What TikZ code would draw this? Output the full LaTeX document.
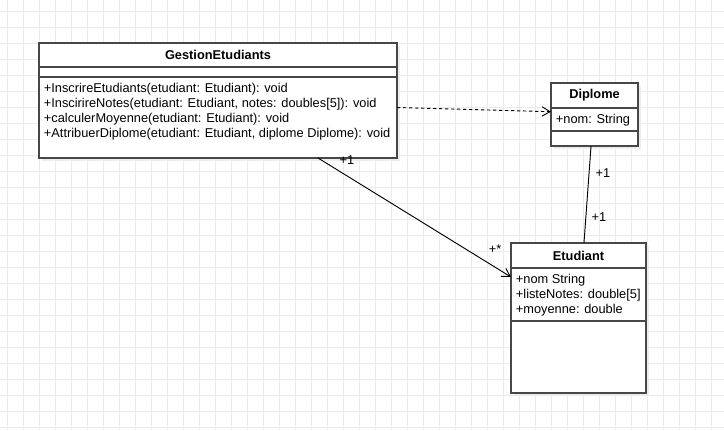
\documentclass[tikz,border=0pt]{standalone}
\usepackage{fontspec}
\setmainfont{Liberation Sans}
\usetikzlibrary{arrows.meta,shadows}

\tikzset{
  umlpart/.style={draw=black!72, line width=0.9pt, fill=white, anchor=north west, inner sep=0pt, outer sep=0pt,
    drop shadow={shadow xshift=2.5pt, shadow yshift=-2.5pt, fill=black!7, opacity=1}},
  umltitle/.style={umlpart, font=\bfseries\fontsize{9.6}{11}\selectfont},
  umltext/.style={anchor=north west, inner sep=0pt, align=left, font=\fontsize{9.6}{11.2}\selectfont},
  multiplicity/.style={inner sep=0pt, font=\fontsize{9.6}{11}\selectfont},
  link/.style={draw=black, line width=0.7pt},
  openarrow/.style={-{Straight Barb[length=6pt,width=7pt]}},
  gridline/.style={draw=black!8, line width=0.75pt}
}

\begin{document}
\begin{tikzpicture}[x=0.75pt, y=-0.75pt]
	\useasboundingbox (0,0) rectangle (724,430);
	\fill[white] (0,0) rectangle (724,430);
	\foreach \gx in {7,23,...,727} \draw[gridline] (\gx,0) -- (\gx,430);
	\foreach \gy in {11,27,...,427} \draw[gridline] (0,\gy) -- (724,\gy);

	% GestionEtudiants
	\node[umltitle, minimum width=268.5pt, minimum height=18pt] (gestion) at (39,43) {GestionEtudiants};
	\node[umlpart, minimum width=268.5pt, minimum height=7.5pt] (gestionattr) at (gestion.south west) {};
	\node[umlpart, minimum width=268.5pt, minimum height=60.75pt] (gestionops) at (gestionattr.south west) {};
	\node[umltext] (gestionopstext) at ([xshift=3.5pt,yshift=-4.5pt]gestionops.north west) {+InscrireEtudiants(etudiant: Etudiant): void\\+InscirireNotes(etudiant: Etudiant, notes: doubles[5]): void\\+calculerMoyenne(etudiant: Etudiant): void\\+AttribuerDiplome(etudiant: Etudiant, diplome Diplome): void};

	% Diplome
	\node[umltitle, minimum width=65.25pt, minimum height=18.75pt] (diplome) at (551,83) {Diplome};
	\node[umlpart, minimum width=65.25pt, minimum height=17.25pt] (diplomeattr) at (diplome.south west) {};
	\node[umlpart, minimum width=65.25pt, minimum height=11.25pt] (diplomeops) at (diplomeattr.south west) {};
	\node[umltext] (diplomeattrtext) at ([xshift=3.5pt,yshift=-4.5pt]diplomeattr.north west) {+nom: String};

	% Etudiant
	\node[umltitle, minimum width=101.25pt, minimum height=18.75pt] (etudiant) at (511,243) {Etudiant};
	\node[umlpart, minimum width=101.25pt, minimum height=39.75pt] (etudiantattr) at (etudiant.south west) {};
	\node[umlpart, minimum width=101.25pt, minimum height=54pt] (etudiantops) at (etudiantattr.south west) {};
	\node[umltext] (etudiantattrtext) at ([xshift=3.5pt,yshift=-4.5pt]etudiantattr.north west) {+nom String\\+listeNotes: double[5]\\+moyenne: double};

	% liens
	\draw[link, dashed, dash pattern=on 2.5pt off 2pt, openarrow] ([yshift=7.5pt]gestionops.east) -- ([yshift=5.85pt]diplomeattr.west);
	\draw[link, openarrow] ([xshift=75pt]gestionops.south) -- ([yshift=-6.75pt]etudiantattr.north west);
	\draw[link] ([xshift=-2.6pt]diplomeops.south) -- ([xshift=4.1pt]etudiant.north);

	\node[multiplicity] (gestionmult) at (347,160) {+1};
	\node[multiplicity] (etudiantmult) at (495,249) {+*};
	\node[multiplicity] (diplomemult) at (603,173) {+1};
	\node[multiplicity] (etudiantdipmult) at (599,217) {+1};
\end{tikzpicture}
\end{document}
